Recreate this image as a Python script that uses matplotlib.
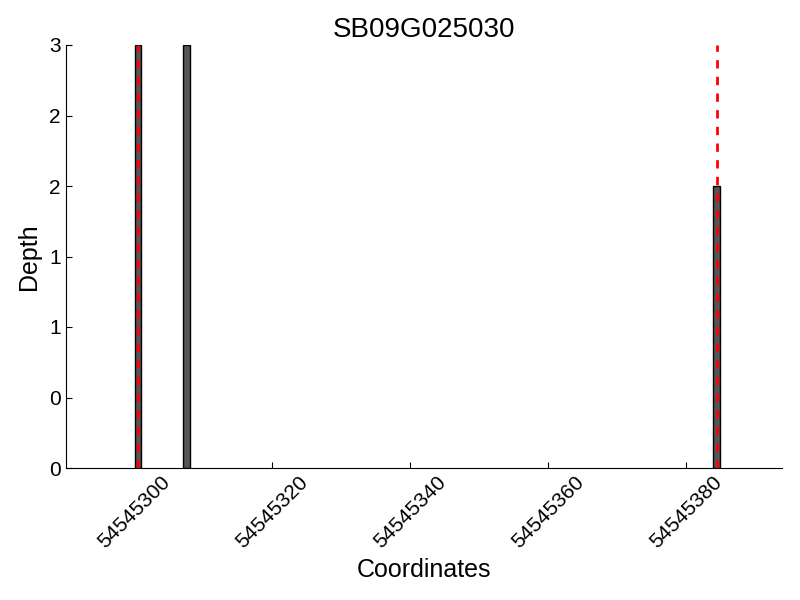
import matplotlib
matplotlib.use('Agg')
import matplotlib.pyplot as plt
from matplotlib.ticker import FormatStrFormatter

plt.rcParams['font.family'] = ['Liberation Sans', 'DejaVu Sans']

gene = 'SB09G025030'
positions = [54545300, 54545307, 54545384]
depths = [3, 3, 2]
sites = [54545300.5, 54545384.5]

fig = plt.figure(figsize=(8, 6), dpi=100)
ax = fig.add_axes([0.082, 0.22, 0.896, 0.705])

ax.bar(positions, depths, width=1, align='edge', color='#555555',
       edgecolor='black', linewidth=1, zorder=2)
for s in sites:
    ax.plot([s, s], [0, max(depths)], color='red', linewidth=2,
            linestyle=(0, (3, 3)), zorder=3)

ax.set_xlim(min(positions) - 10, max(positions) + 10)
ax.set_ylim(0, max(depths))
ax.set_yticks([0, 0.5, 1, 1.5, 2, 2.5, 3])
ax.yaxis.set_major_formatter(FormatStrFormatter('%d'))
ax.set_xticks([54545300, 54545320, 54545340, 54545360, 54545380])
ax.ticklabel_format(axis='x', useOffset=False, style='plain')

ax.spines['top'].set_visible(False)
ax.spines['right'].set_visible(False)
ax.tick_params(direction='in', length=4, labelsize=15, top=False, right=False)
plt.setp(ax.get_xticklabels(), rotation=45)

ax.set_title(gene, fontsize=20)
ax.set_xlabel('Coordinates', fontsize=18)
ax.set_ylabel('Depth', fontsize=18, labelpad=6)

fig.savefig('out.png', dpi=100)
